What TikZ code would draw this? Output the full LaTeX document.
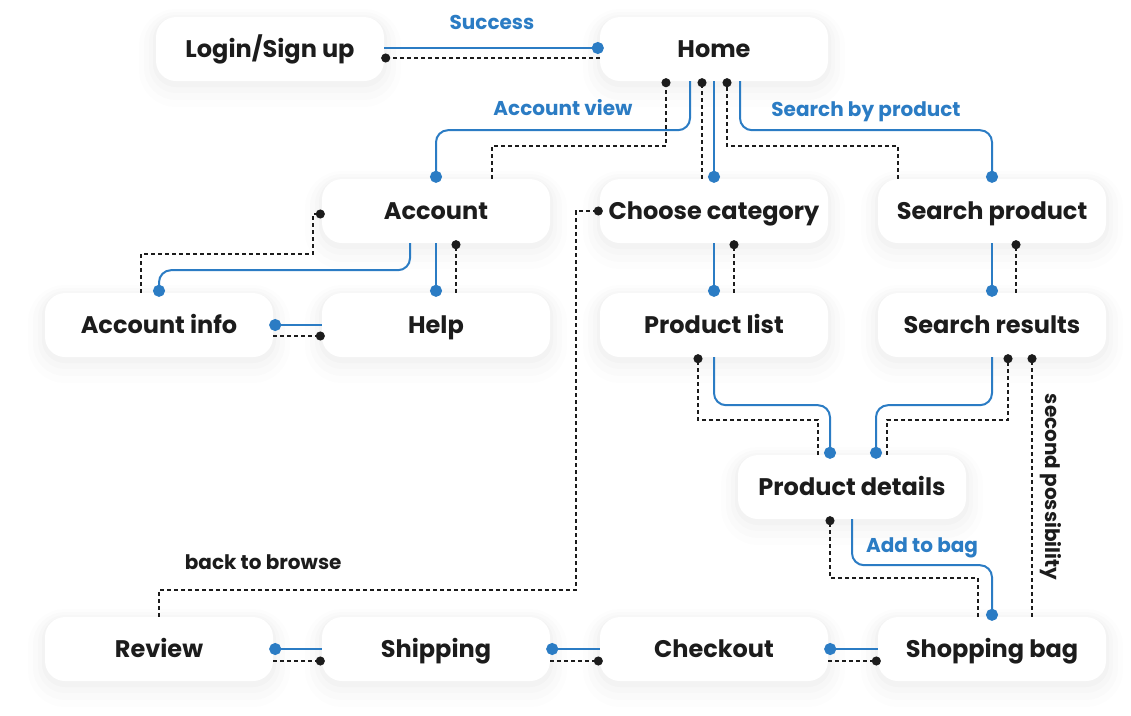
\documentclass[tikz,border=0pt]{standalone}
\usepackage{fontspec}
\setmainfont{Poppins}
\usetikzlibrary{arrows.meta, calc, shadows}
\definecolor{flowBlue}{RGB}{43,124,196}
\definecolor{inkBlack}{RGB}{28,28,28}

\begin{document}
\begin{tikzpicture}[
  x=1pt, y=-1pt,
  screen/.style={rectangle, rounded corners=20pt, minimum width=228pt,
                 minimum height=64pt, fill=white, text=inkBlack,
                 text height=17pt, text depth=0pt,
                 font=\fontsize{24}{28}\selectfont\bfseries,
                 general shadow={draw=black, line width=6pt, opacity=0.016,
                                 shadow yshift=-3pt},
                 general shadow={draw=black, line width=14pt, opacity=0.013,
                                 shadow yshift=-5pt},
                 general shadow={draw=black, line width=24pt, opacity=0.01,
                                 shadow yshift=-7pt},
                 general shadow={draw=black, line width=34pt, opacity=0.008,
                                 shadow yshift=-9pt}},
  fwd/.style={draw=flowBlue, line width=2pt, rounded corners=12pt,
              -{Circle[length=12pt]}, shorten >=-4pt},
  back/.style={draw=inkBlack, line width=1.7pt, dash pattern=on 4pt off 3pt,
               -{Circle[length=9pt]}, shorten >=-3pt},
  flowlbl/.style={text=flowBlue, font=\fontsize{20}{24}\selectfont\bfseries},
  notelbl/.style={text=inkBlack, font=\fontsize{20}{24}\selectfont\bfseries}
]
  \path[use as bounding box, fill=white] (0,0) rectangle (1131,715);

  \node[screen] (login)    at (270,49)  {Login/Sign up};
  \node[screen] (home)     at (714,49)  {Home};
  \node[screen] (account)  at (436,211) {Account};
  \node[screen] (category) at (714,211) {Choose category};
  \node[screen] (search)   at (992,211) {Search product};
  \node[screen] (info)     at (159,325) {Account info};
  \node[screen] (help)     at (436,325) {Help};
  \node[screen] (plist)    at (714,325) {Product list};
  \node[screen] (results)  at (992,325) {Search results};
  \node[screen] (details)  at (852,487) {Product details};
  \node[screen] (review)   at (159,649) {Review};
  \node[screen] (shipping) at (436,649) {Shipping};
  \node[screen] (checkout) at (714,649) {Checkout};
  \node[screen] (bag)      at (992,649) {Shopping bag};

  \draw[fwd] ($(login.east)+(0,-1)$) -- node[above=14pt, flowlbl] {Success}
    ($(home.west)+(0,-1)$);
  \draw[back] ($(home.west)+(0,9)$) -- ($(login.east)+(0,9)$);

  \draw[fwd] ($(home.south)+(-24,0)$) -- ++(0,49)
    -| node[pos=0.25, above=10pt, flowlbl] {Account view} (account.north);
  \draw[back] ($(account.north)+(56,0)$) -- ++(0,-33)
    -| ($(home.south)+(-48,0)$);
  \draw[fwd] (home.south) -- (category.north);
  \draw[back] ($(category.north)+(-12,0)$) -- ($(home.south)+(-12,0)$);
  \draw[fwd] ($(home.south)+(26,0)$) -- ++(0,49)
    -| node[pos=0.25, above=4pt, flowlbl] {Search by product} (search.north);
  \draw[back] ($(search.north)+(-94,0)$) -- ++(0,-33)
    -| ($(home.south)+(13,0)$);

  \draw[fwd] ($(account.south)+(-26,0)$) -- ++(0,27) -| (info.north);
  \draw[back] ($(info.north)+(-18,0)$) -- ++(0,-39)
    -| ($(account.west)+(-9,3)$) -- ($(account.west)+(0,3)$);
  \draw[fwd] (account.south) -- (help.north);
  \draw[back] ($(help.north)+(20,0)$) -- ($(account.south)+(20,0)$);
  \draw[fwd] (help.west) -- (info.east);
  \draw[back] ($(info.east)+(0,11)$) -- ($(help.west)+(0,11)$);

  \draw[fwd] (category.south) -- (plist.north);
  \draw[back] ($(plist.north)+(20,0)$) -- ($(category.south)+(20,0)$);
  \draw[fwd] (search.south) -- (results.north);
  \draw[back] ($(results.north)+(24,0)$) -- ($(search.south)+(24,0)$);

  \draw[fwd] (plist.south) -- ++(0,48) -| ($(details.north)+(-22,0)$);
  \draw[back] ($(details.north)+(-34,0)$) -- ++(0,-35)
    -| ($(plist.south)+(-16,0)$);
  \draw[fwd] (results.south) -- ++(0,48) -| ($(details.north)+(24,0)$);
  \draw[back] ($(details.north)+(35,0)$) -- ++(0,-35)
    -| ($(results.south)+(16,0)$);
  \draw[back] ($(bag.north)+(40,0)$) -- node[pos=0.5, anchor=south,
    rotate=-90, inner ysep=7pt, notelbl] {second possibility}
    ($(results.south)+(40,0)$);

  \draw[fwd] (details.south) -- ++(0,46)
    -| node[pos=0.25, above=3pt, flowlbl] {Add to bag} (bag.north);
  \draw[back] ($(bag.north)+(-14,0)$) -- ++(0,-39)
    -| ($(details.south)+(-22,0)$);

  \draw[fwd] (bag.west) -- (checkout.east);
  \draw[back] ($(checkout.east)+(0,12)$) -- ($(bag.west)+(0,12)$);
  \draw[fwd] (checkout.west) -- (shipping.east);
  \draw[back] ($(shipping.east)+(0,12)$) -- ($(checkout.west)+(0,12)$);
  \draw[fwd] (shipping.west) -- (review.east);
  \draw[back] ($(review.east)+(0,12)$) -- ($(shipping.west)+(0,12)$);

  \draw[back] (review.north) -- ++(0,-27)
    -| node[pos=0.125, above=16pt, notelbl] {back to browse}
    ($(category.west)+(-24,0)$) -- (category.west);
\end{tikzpicture}
\end{document}
